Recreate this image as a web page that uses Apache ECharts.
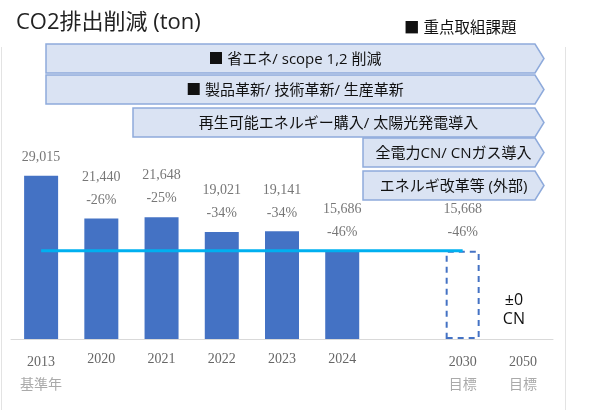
<!DOCTYPE html>
<html>
<head>
<meta charset="utf-8">
<script src="https://cdn.jsdelivr.net/npm/echarts@6/dist/echarts.min.js"></script>
<style>
html,body{margin:0;padding:0;background:#fff;}
#chart{width:589px;height:411px;}
</style>
</head>
<body>
<div id="chart"></div>
<script>
// ---- data ----
const categories = ['2013', '2020', '2021', '2022', '2023', '2024', '', '2030', '2050'];
const subLabels = ['基準年', '', '', '', '', '', '', '目標', '目標'];
const emissions = [29015, 21440, 21648, 19021, 19141, 15686, null, 15668, null];
const reductionPct = ['', '-26%', '-25%', '-34%', '-34%', '-46%', '', '-46%', ''];
const targetCategory = '2030';
const targetLevel = 15668;
const targetLineFrom = '2013';
const cnText = '±0\nCN';
const titleText = 'CO2排出削減 (ton)';
const legendText = '■ 重点取組課題';
const initiatives = [
  '■ 省エネ/ scope 1,2 削減',
  '■ 製品革新/ 技術革新/ 生産革新',
  '再生可能エネルギー購入/ 太陽光発電導入',
  '全電力CN/ CNガス導入',
  'エネルギ改革等 (外部)'
];

// ---- layout (annotation boxes) ----
const boxLeft = [46, 46, 133, 363, 363];
const boxTop = [44, 75, 108, 138, 171];
const boxH = 29;
const bodyEnd = 535, tipX = 544;
const sansFont = '"Open Sans", "Noto Sans CJK JP", sans-serif';
const serifFont = '"Liberation Serif", serif';

const chart = echarts.init(document.getElementById('chart'));

const fmtNum = v => v.toLocaleString('en-US');

const barData = emissions.map((v, i) => {
  if (v == null) return '-';
  const item = { value: v };
  if (categories[i] === targetCategory) {
    item.itemStyle = {
      color: 'rgba(0,0,0,0)',
      borderColor: '#4472c4',
      borderWidth: 2,
      borderType: [6, 5]
    };
  }
  return item;
});

const graphics = [];
// frame lines
graphics.push({ type: 'line', shape: { x1: 1.5, y1: 47, x2: 1.5, y2: 410 }, style: { stroke: '#e3e3e3', lineWidth: 1 }, silent: true });
graphics.push({ type: 'line', shape: { x1: 565.5, y1: 47, x2: 565.5, y2: 410 }, style: { stroke: '#e3e3e3', lineWidth: 1 }, silent: true });
initiatives.forEach((t, i) => {
  const x0 = boxLeft[i], y0 = boxTop[i], y1 = y0 + boxH;
  graphics.push({
    type: 'polygon',
    shape: { points: [[x0, y0], [bodyEnd, y0], [tipX, (y0 + y1) / 2], [bodyEnd, y1], [x0, y1]] },
    style: { fill: '#dae3f3', stroke: '#8eaadb', lineWidth: 1.5 },
    z: 10
  });
  graphics.push({
    type: 'text',
    x: (x0 + tipX) / 2,
    y: (y0 + y1) / 2 + 1,
    style: {
      text: t, fill: '#111', fontSize: 15,
      fontFamily: sansFont,
      align: 'center', verticalAlign: 'middle'
    },
    z: 11
  });
});
graphics.push({
  type: 'text', x: 404, y: 29,
  style: { text: legendText, fill: '#111', fontSize: 15.5, fontFamily: sansFont, verticalAlign: 'middle' }
});
graphics.push({
  type: 'text', x: 16, y: 23,
  style: { text: titleText, fill: '#222', fontSize: 22, fontFamily: sansFont, verticalAlign: 'middle' }
});

const option = {
  animation: false,
  backgroundColor: '#fff',
  grid: { left: 11, right: 36, top: 114, bottom: 72, containLabel: false },
  xAxis: {
    type: 'category',
    data: categories,
    axisTick: { show: false },
    axisLine: { lineStyle: { color: '#d9d9d9', width: 1 } },
    axisLabel: {
      interval: 0,
      margin: 12,
      formatter: (val, idx) => subLabels[idx] ? '{y|' + val + '}\n{s|' + subLabels[idx] + '}' : '{y1|' + val + '}',
      rich: {
        y: { fontFamily: serifFont, fontSize: 14, color: '#666', lineHeight: 22 },
        y1: { fontFamily: serifFont, fontSize: 14, color: '#666', lineHeight: 16 },
        s: { fontFamily: '"Noto Sans CJK JP", sans-serif', fontSize: 14, color: '#aaa', lineHeight: 22 }
      }
    }
  },
  yAxis: { type: 'value', min: 0, max: 40000, show: false, splitLine: { show: false } },
  series: [
    {
      type: 'bar',
      data: barData,
      barWidth: 34,
      itemStyle: { color: '#4472c4' },
      label: {
        show: true,
        position: 'top',
        distance: 7,
        formatter: p => {
          const pct = reductionPct[p.dataIndex];
          return pct ? '{v|' + fmtNum(p.value) + '}\n{v|' + pct + '}' : '{v|' + fmtNum(p.value) + '}';
        },
        rich: {
          v: { fontFamily: serifFont, fontSize: 14, color: '#777', lineHeight: 23 }
        }
      },
      z: 2
    },
    {
      type: 'line',
      data: [[targetLineFrom, targetLevel], [targetCategory, targetLevel]],
      symbol: 'none',
      lineStyle: { color: '#00b0f0', width: 3 },
      z: 5
    }
  ],
  graphic: graphics
};
chart.setOption(option);

// "±0 CN" note placed near the 2050 category
const p = chart.convertToPixel({ xAxisIndex: 0, yAxisIndex: 0 }, ['2050', 0]);
chart.setOption({
  graphic: graphics.concat([{
    type: 'text', x: p[0] - 9, y: 310,
    style: { text: cnText, fill: '#111', fontSize: 16, lineHeight: 19, fontFamily: sansFont, align: 'center', verticalAlign: 'middle' }
  }])
});
</script>
</body>
</html>
